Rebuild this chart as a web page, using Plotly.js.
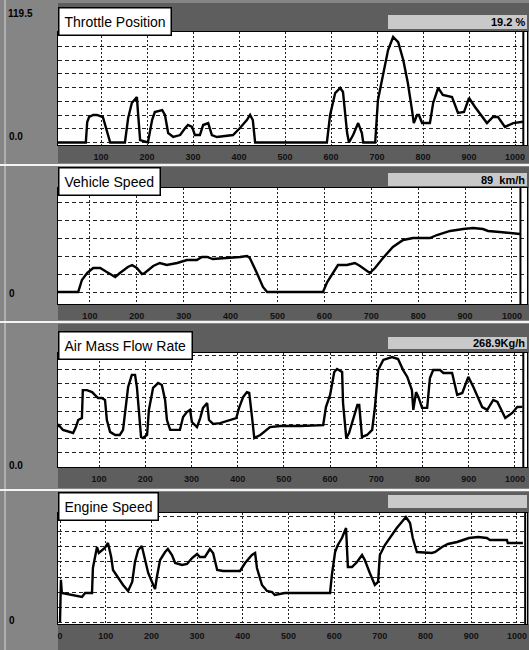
<!DOCTYPE html>
<html>
<head>
<meta charset="utf-8">
<script src="https://cdn.plot.ly/plotly-3.0.1.min.js"></script>
<style>html,body{margin:0;padding:0;background:#808080;}#chart{width:529px;height:650px;}</style>
</head>
<body>
<div id="chart"></div>
<script>
// ---------- data ----------
const panelTitles = ["Throttle Position", "Vehicle Speed", "Air Mass Flow Rate", "Engine Speed"];
const readouts = ["19.2 %", "89  km/h", "268.9Kg/h", ""];
const yTopLabels = ["119.5", "", "", ""];
const yZeroLabels = ["0.0", "0", "0.0", "0"];
const xTickVals = [0, 100, 200, 300, 400, 500, 600, 700, 800, 900, 1000];
const xTickText = ["0", "100", "200", "300", "400", "500", "600", "700", "800", "900", "1000"];
const cursorTime = 1018;

// Throttle position (%)
const throttleTime = [6,67,70,74,83,91,104,113,120,152,159,167,178,180,185,202,211,217,233,239,246,257,272,283,289,298,304,315,322,333,341,352,387,402,417,424,430,435,591,598,609,620,626,635,639,648,659,667,670,696,702,713,724,735,746,757,767,776,780,787,791,798,815,822,833,843,863,876,889,900,913,939,952,963,978,996,1017];
const throttleValue = [0,0,19,23.6,25.5,25.5,23.6,11.6,0,0,22.7,36.6,42.1,30,2.3,0,20.8,28.2,30,25.5,8.8,5.1,6.9,13.4,16.2,14.4,6.9,6.9,16.2,18,6.9,5.1,6.9,13.4,20.8,25.5,20.8,0,0,25.5,45.8,50.5,46.8,8.8,0,6.9,18,8.8,0,0,39.4,62.5,85.6,97.7,93,76.4,55.1,30,18,25.5,25.5,18,18,36.6,50.5,44,42.1,27.3,28.2,41.2,32.9,18,23.6,23.6,14.4,18,19.2];

// Vehicle speed (km/h)
const speedTime = [32,75,83,94,107,122,136,154,164,181,190,200,211,217,235,249,264,286,307,328,339,350,362,405,420,435,441,456,469,478,597,606,618,629,648,665,676,687,697,708,725,746,768,789,825,840,868,896,917,938,949,974,1002,1017];
const speedValue = [0,0,18.4,29.1,36.8,36.8,30.7,23,29.1,38.3,41.4,36.8,27.6,29.1,39.9,44.5,41.4,44.5,49.1,49.1,53.7,53.7,50.6,52.1,53.7,55.2,52.1,29.1,7.7,0,0,15.3,29.1,41.4,41.4,44.5,39.9,33.7,29.1,36.8,52.1,69,79.8,82.8,82.8,87.4,93.6,96.6,98.2,96.6,93.6,92,90.5,89];

// Air mass flow rate (kg/h)
const airTime = [9,13,22,44,50,55,63,65,74,85,91,98,106,113,117,124,135,145,152,158,163,171,178,182,187,191,195,204,208,217,228,236,243,247,254,275,282,290,297,301,312,319,325,334,338,347,362,384,397,403,412,420,425,431,436,449,463,470,492,535,585,591,600,609,615,626,628,635,641,650,659,663,669,680,691,697,704,715,734,747,758,767,777,780,786,791,799,810,816,823,838,845,864,875,886,899,910,929,940,953,962,979,994,1005,1016];
const airValue = [177,186,164,150,177,209,218,345,345,336,323,309,309,300,209,155,141,141,164,268,359,414,414,359,241,132,127,141,255,355,377,368,300,209,164,164,223,245,255,200,177,218,264,286,209,191,195,209,218,264,314,336,332,223,127,141,164,177,182,182,186,268,323,427,441,427,286,127,150,209,277,277,132,141,164,268,436,482,495,486,436,405,345,255,336,314,264,264,400,436,436,423,423,323,332,405,359,268,255,300,291,218,241,268,268.9];

// Engine speed (rpm)
const rpmTime = [0,2,4,48,55,70,72,81,85,92,98,105,112,116,127,138,149,158,164,171,179,184,193,204,208,212,219,230,236,245,252,267,278,289,300,306,317,328,335,344,357,394,405,420,427,431,442,453,464,470,492,591,595,602,608,617,626,628,630,639,650,661,667,678,689,696,700,711,726,737,748,757,766,772,781,814,821,836,849,869,895,915,934,941,978,980,1013];
const rpmValue = [0,1170,806,694,806,806,1500,2083,1917,2000,2056,2194,1806,1444,1222,1028,861,1111,1667,2000,2111,1861,1361,1028,917,1250,1722,1944,2028,1861,1639,1583,1611,1778,1889,1806,1806,2028,1917,1444,1417,1417,1639,1861,1917,1500,1028,861,833,750,806,806,1306,1944,2139,2333,2611,2056,1528,1528,1667,1861,1722,1361,1028,1111,1861,2139,2417,2611,2778,2917,2750,2333,1944,1917,1944,2083,2167,2222,2333,2361,2333,2278,2278,2194,2194];

const seriesTime = [throttleTime, speedTime, airTime, rpmTime];
const seriesValue = [throttleValue, speedValue, airValue, rpmValue];

// ---------- layout geometry (pixels) ----------
const W = 529, H = 650;
const fx = x => x / W;
const fy = y => 1 - y / H;
const plotL = 58, plotR = 527;
const geo = [
  {sepY: null, headTop: 3,   plotTop: 32,  plotBot: 145, bandBot: 163, boxT: 7,   valT: 15,  valB: 29,
   xr: [6.5, 1026], yr: [-2.31, 102.31], dy: 12.73, zeroY: 136, topY: 14},
  {sepY: 165,  headTop: 167, plotTop: 188, plotBot: 304, bandBot: 320, boxT: 167, valT: 173, valB: 186,
   xr: [32, 1032], yr: [-18.4, 159.5], dy: 27.6, zeroY: 293, topY: null},
  {sepY: 322,  headTop: 324, plotTop: 353, plotBot: 467, bandBot: 488, boxT: 331, valT: 337, valB: 349,
   xr: [11.3, 1026], yr: [-4.5, 513.6], dy: 62.5, zeroY: 465, topY: null},
  {sepY: 490,  headTop: 492, plotTop: 513, plotBot: 624, bandBot: 650, boxT: 492, valT: 495, valB: 508,
   xr: [-4.4, 1022], yr: [-55.6, 3027.8], dy: 416.7, zeroY: 620, topY: null}
];

const margin = '#858585', band = '#5e5e5e', light = '#c9c9c9';
const fontFam = 'Arial, "Liberation Sans", sans-serif';
const traces = [];
const layout = {
  width: W, height: H,
  margin: {l: 0, r: 0, t: 0, b: 0},
  paper_bgcolor: margin,
  plot_bgcolor: '#ffffff',
  showlegend: false,
  font: {family: fontFam, color: '#000'},
  shapes: [],
  annotations: []
};

// thin light vertical line at left edge
layout.shapes.push({type: 'line', xref: 'paper', yref: 'paper', x0: fx(5), x1: fx(5), y0: 0, y1: 1,
  line: {color: '#d8d8d8', width: 1}, layer: 'below'});

geo.forEach((g, i) => {
  const n = i === 0 ? '' : String(i + 1);
  traces.push({
    x: seriesTime[i], y: seriesValue[i],
    xaxis: 'x' + n, yaxis: 'y' + n,
    type: 'scatter', mode: 'lines',
    line: {color: '#000', width: 2.4},
    hoverinfo: 'skip'
  });
  layout['xaxis' + n] = {
    domain: [fx(plotL), fx(plotR)], range: g.xr, anchor: 'y' + n,
    tickmode: 'array', tickvals: xTickVals, ticktext: xTickText,
    showgrid: true, gridcolor: '#222', griddash: '2px,2px', gridwidth: 1,
    zeroline: false, showline: true, linecolor: '#000', linewidth: 1, mirror: true,
    ticks: '', ticklabelstandoff: 3,
    tickfont: {size: 9, color: '#111', family: fontFam, weight: 'bold'},
    fixedrange: true
  };
  layout['yaxis' + n] = {
    domain: [fy(g.plotBot), fy(g.plotTop)], range: g.yr, anchor: 'x' + n,
    tick0: 0, dtick: g.dy, showticklabels: false, ticks: '',
    showgrid: true, gridcolor: '#222', griddash: '4px,3px', gridwidth: 1,
    zeroline: false, showline: true, linecolor: '#000', linewidth: 1, mirror: true,
    fixedrange: true
  };

  if (g.sepY !== null) {
    layout.shapes.push({type: 'line', xref: 'paper', yref: 'paper', x0: 0, x1: 1, y0: fy(g.sepY), y1: fy(g.sepY),
      line: {color: '#f4f4f4', width: 2}, layer: 'below'});
  }
  layout.shapes.push({type: 'rect', xref: 'paper', yref: 'paper', x0: fx(plotL), x1: 1, y0: fy(g.plotTop), y1: fy(g.headTop),
    fillcolor: band, line: {width: 0}, layer: 'below'});
  layout.shapes.push({type: 'rect', xref: 'paper', yref: 'paper', x0: fx(plotL), x1: 1, y0: fy(g.bandBot), y1: fy(g.plotBot),
    fillcolor: band, line: {width: 0}, layer: 'below'});
  layout.shapes.push({type: 'rect', xref: 'paper', yref: 'paper', x0: fx(388), x1: fx(527), y0: fy(g.valB), y1: fy(g.valT),
    fillcolor: light, line: {width: 0}, layer: 'below'});
  layout.shapes.push({type: 'line', xref: 'x' + n, yref: 'y' + n + ' domain', x0: cursorTime, x1: cursorTime, y0: 0, y1: 1,
    line: {color: '#000', width: 2}, layer: 'above'});

  layout.annotations.push({
    xref: 'paper', yref: 'paper', x: fx(plotL), y: fy(g.boxT), xanchor: 'left', yanchor: 'top',
    text: panelTitles[i], showarrow: false, align: 'left',
    borderpad: 5, bgcolor: '#ffffff', bordercolor: '#000', borderwidth: 1.5,
    font: {size: 14, color: '#000', family: fontFam}
  });
  if (readouts[i]) {
    layout.annotations.push({
      xref: 'paper', yref: 'paper', x: fx(527), y: fy((g.valT + g.valB) / 2), xanchor: 'right', yanchor: 'middle',
      text: readouts[i], showarrow: false,
      font: {size: 11, color: '#000', family: fontFam, weight: 'bold'}
    });
  }
  layout.annotations.push({
    xref: 'paper', yref: 'paper', x: fx(7), y: fy(g.zeroY), xanchor: 'left', yanchor: 'middle',
    text: yZeroLabels[i], showarrow: false,
    font: {size: 10, color: '#000', family: fontFam, weight: 'bold'}
  });
  if (yTopLabels[i]) {
    layout.annotations.push({
      xref: 'paper', yref: 'paper', x: fx(6), y: fy(g.topY), xanchor: 'left', yanchor: 'middle',
      text: yTopLabels[i], showarrow: false,
      font: {size: 10, color: '#000', family: fontFam, weight: 'bold'}
    });
  }
});

Plotly.newPlot('chart', traces, layout, {displayModeBar: false, staticPlot: true});
</script>
</body>
</html>
